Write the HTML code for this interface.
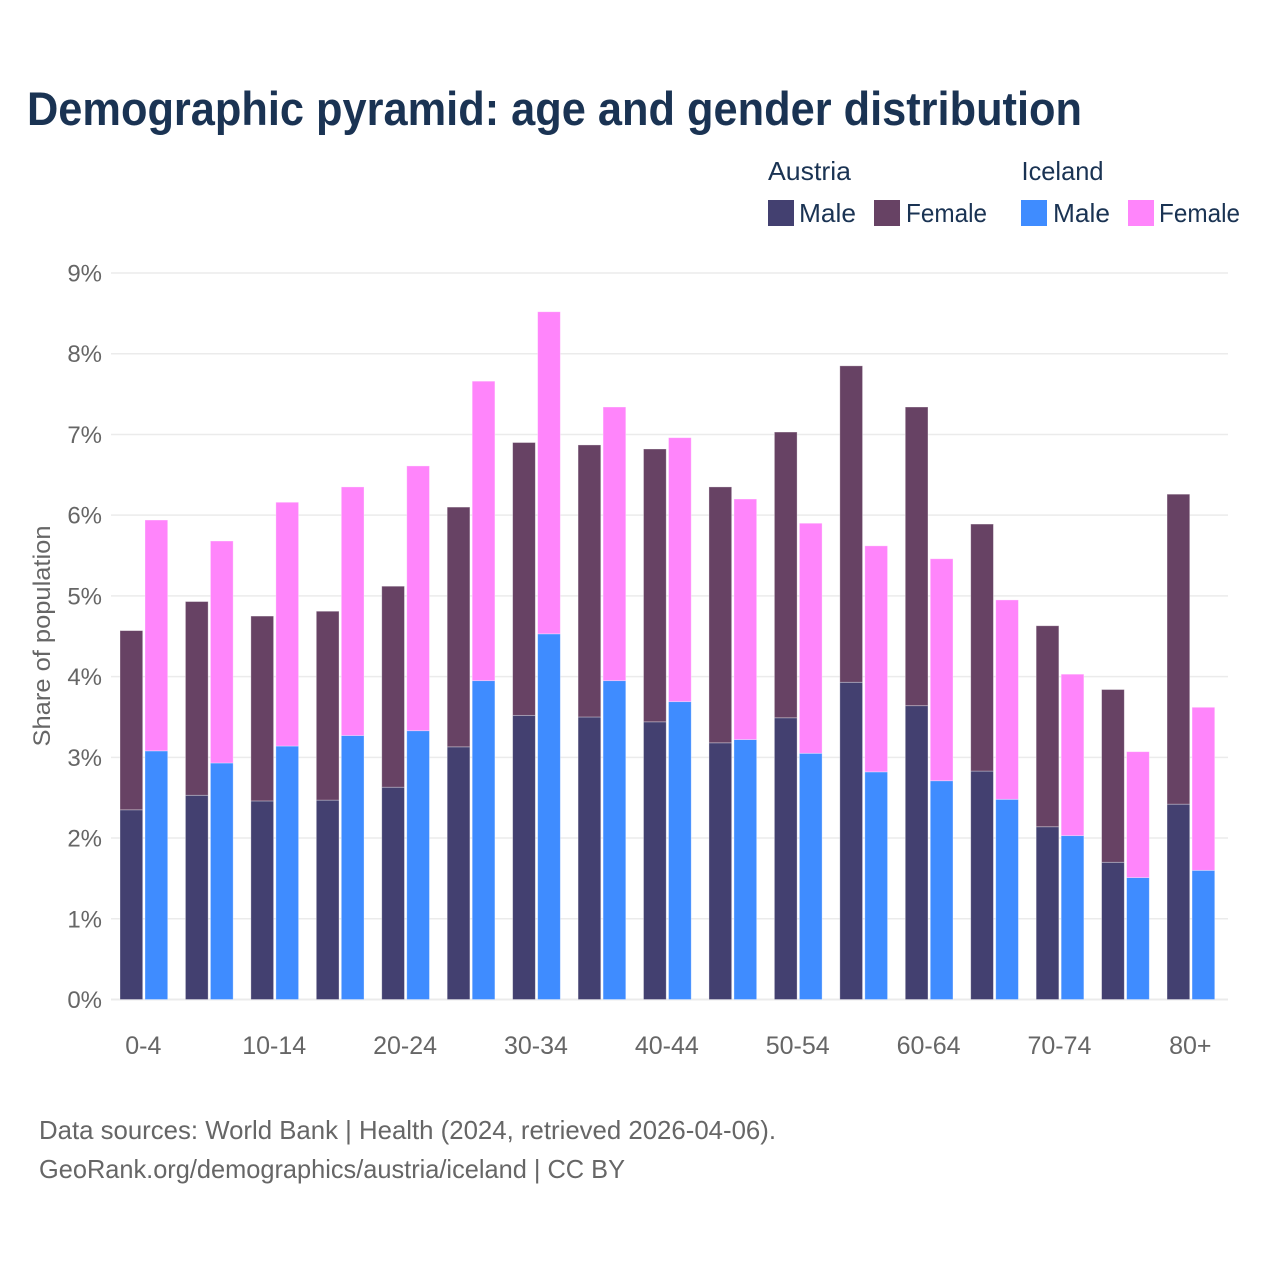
<!DOCTYPE html>
<html lang="en">
<head>
<meta charset="utf-8">
<title>Demographic pyramid</title>
<style>
html,body{margin:0;padding:0;background:#fff}
svg{display:block}
text{font-family:"Liberation Sans",sans-serif}
</style>
</head>
<body>
<svg id="chart" xmlns="http://www.w3.org/2000/svg" width="1280" height="1280" viewBox="0 0 1280 1280">
<rect x="0" y="0" width="1280" height="1280" fill="#ffffff"/>
<text x="27" y="125" font-size="47" font-weight="700" fill="#1a3353" textLength="1055" lengthAdjust="spacingAndGlyphs">Demographic pyramid: age and gender distribution</text>
<g font-size="26" fill="#1a3353">
<text x="768" y="180" textLength="83" lengthAdjust="spacingAndGlyphs">Austria</text>
<text x="1021.5" y="180" textLength="82" lengthAdjust="spacingAndGlyphs">Iceland</text>
<rect x="768" y="200" width="26" height="26" fill="#434070"/>
<text x="799" y="222" textLength="57" lengthAdjust="spacingAndGlyphs">Male</text>
<rect x="874" y="200" width="26" height="26" fill="#674264"/>
<text x="906" y="222" textLength="81" lengthAdjust="spacingAndGlyphs">Female</text>
<rect x="1021" y="200" width="26" height="26" fill="#3f8cff"/>
<text x="1053" y="222" textLength="57" lengthAdjust="spacingAndGlyphs">Male</text>
<rect x="1128" y="200" width="26" height="26" fill="#ff85fb"/>
<text x="1159" y="222" textLength="81" lengthAdjust="spacingAndGlyphs">Female</text>
</g>
<g id="grid"></g>
<g id="bars"></g>
<g id="yticks"></g>
<g id="xticks"></g>
<text transform="translate(50,636) rotate(-90)" text-anchor="middle" font-size="24" fill="#666666" textLength="221" lengthAdjust="spacingAndGlyphs">Share of population</text>
<text x="39" y="1139" font-size="26" fill="#666666" textLength="737" lengthAdjust="spacingAndGlyphs">Data sources: World Bank | Health (2024, retrieved 2026-04-06).</text>
<text x="39" y="1178" font-size="26" fill="#666666" textLength="586" lengthAdjust="spacingAndGlyphs">GeoRank.org/demographics/austria/iceland | CC BY</text>
</svg>
<script>
const categories = ['0-4','5-9','10-14','15-19','20-24','25-29','30-34','35-39','40-44','45-49','50-54','55-59','60-64','65-69','70-74','75-79','80+'];
const austriaMale = [2.35,2.53,2.46,2.47,2.63,3.13,3.52,3.50,3.44,3.18,3.49,3.93,3.64,2.83,2.14,1.70,2.42];
const austriaFemale = [2.22,2.40,2.29,2.34,2.49,2.97,3.38,3.37,3.38,3.17,3.54,3.92,3.70,3.06,2.49,2.14,3.84];
const icelandMale = [3.08,2.93,3.14,3.27,3.33,3.95,4.53,3.95,3.69,3.22,3.05,2.82,2.71,2.48,2.03,1.51,1.60];
const icelandFemale = [2.86,2.75,3.02,3.08,3.28,3.71,3.99,3.39,3.27,2.98,2.85,2.80,2.75,2.47,2.00,1.56,2.02];
const yTickValues = [0,1,2,3,4,5,6,7,8,9];
const xLabelStep = 2;

const NS = 'http://www.w3.org/2000/svg';
const plotLeft = 111;
const plotRight = 1228;
const y0 = 999.5;
const yUnit = 80.72;
const catStep = 65.44;
const barW = 22.7;
const yScale = v => y0 - v * yUnit;
const catCenter = i => 143.8 + i * catStep;

function make(tag, attrs, parent) {
  const el = document.createElementNS(NS, tag);
  for (const k in attrs) el.setAttribute(k, attrs[k]);
  parent.appendChild(el);
  return el;
}

const grid = document.getElementById('grid');
const yticks = document.getElementById('yticks');
yTickValues.forEach(v => {
  const line = make('line', {x1: plotLeft, x2: plotRight, y1: yScale(v), y2: yScale(v), stroke: '#ebebeb', 'stroke-width': v === 0 ? 2 : 1.5}, grid);
  
  
  const t = make('text', {x: 102, y: yScale(v) + 8.5, 'text-anchor': 'end', 'font-size': 24, fill: '#666666'}, yticks);
  
  
  t.textContent = v + '%';
});

const bars = document.getElementById('bars');
function segment(x, base, value, fill) {
  const top = yScale(base + value);
  const r = make('rect', {x: x, y: top, width: barW, height: yScale(base) - top, fill: fill, stroke: '#ffffff', 'stroke-opacity': 0.4, 'stroke-width': 0.8}, bars);
  return r;
}
categories.forEach((c, i) => {
  const cx = catCenter(i);
  const xa = cx - 23.8;
  const xi = cx + 1.2;
  const am = segment(xa, 0, austriaMale[i], '#434070');
  
  
  const af = segment(xa, austriaMale[i], austriaFemale[i], '#674264');
  
  
  const im = segment(xi, 0, icelandMale[i], '#3f8cff');
  
  
  const jf = segment(xi, icelandMale[i], icelandFemale[i], '#ff85fb');
  
  
});

const xticks = document.getElementById('xticks');
categories.forEach((c, i) => {
  if (i % xLabelStep !== 0) return;
  const t = make('text', {x: catCenter(i) - 0.5, y: 1054, 'text-anchor': 'middle', 'font-size': 25, fill: '#666666'}, xticks);
  
  
  t.textContent = c;
});
</script>
</body>
</html>
